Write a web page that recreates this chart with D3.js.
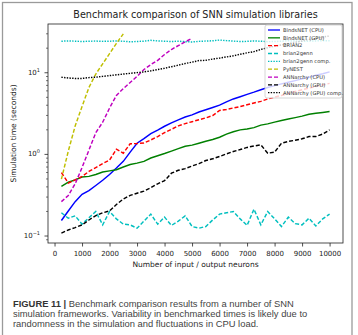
<!DOCTYPE html>
<html>
<head>
<meta charset="utf-8">
<script src="https://cdn.jsdelivr.net/npm/d3@7"></script>
<style>
    body { margin: 0; background: #fff; }
    text { font-family: "DejaVu Sans", sans-serif; }
</style>
</head>
<body>
<svg id="chart" width="358" height="335"></svg>
<script>
'use strict';

// neuron counts (x)
const neurons = [250, 500, 750, 1000, 1250, 1500, 1750, 2000, 2250, 2500,
    2750, 3000, 3250, 3500, 3750, 4000, 4250, 4500, 4750, 5000,
    5250, 5500, 5750, 6000, 6250, 6500, 6750, 7000, 7250, 7500,
    7750, 8000, 8250, 8500, 8750, 9000, 9250, 9500, 9750, 10000];

// simulation times (seconds)
const bindsnetCpu = [0.153, 0.20, 0.26, 0.32, 0.355, 0.41, 0.475, 0.56, 0.67, 0.81,
    1.05, 1.35, 1.54, 1.77, 1.95, 2.18, 2.4, 2.61, 2.83, 3.0,
    3.26, 3.47, 3.7, 3.95, 4.34, 4.71, 5.02, 5.36, 5.7, 6.1,
    6.5, 6.85, 7.2, 7.55, 7.9, 8.3, 8.7, 9.2, 9.6, 10.1];
const bindsnetGpu = [0.40, 0.45, 0.48, 0.52, 0.53, 0.56, 0.60, 0.62, 0.64, 0.69,
    0.74, 0.77, 0.81, 0.89, 0.95, 1.01, 1.08, 1.16, 1.24, 1.28,
    1.35, 1.43, 1.5, 1.6, 1.75, 1.87, 1.97, 2.02, 2.1, 2.25,
    2.33, 2.45, 2.56, 2.67, 2.78, 2.9, 3.06, 3.15, 3.22, 3.3];
const brian2 = [0.59, 0.44, 0.48, 0.53, 0.61, 0.68, 0.76, 0.84, 1.14, 1.02,
    1.33, 1.34, 1.36, 1.48, 1.63, 1.82, 2.0, 2.2, 2.35, 2.48,
    2.62, 2.76, 2.95, 3.4, 3.5, 3.65, 3.8, 4.0, 4.2, 4.4,
    4.7, 4.95, 5.2, 5.5, 5.8, 6.1, 6.4, 6.7, 7.0, 7.3];
const brian2genn = [0.19, 0.163, 0.174, 0.138, 0.165, 0.197, 0.135, 0.197, 0.16, 0.138,
    0.135, 0.123, 0.15, 0.183, 0.138, 0.168, 0.133, 0.15, 0.174, 0.129,
    0.123, 0.129, 0.155, 0.183, 0.19, 0.197, 0.16, 0.133, 0.21, 0.135,
    0.197, 0.16, 0.129, 0.168, 0.14, 0.135, 0.163, 0.131, 0.16, 0.183];
const brian2gennComp = [24.0, 24.2, 24.0, 23.8, 24.0, 24.1, 23.9, 24.0, 24.2, 24.0,
    23.6, 23.8, 24.0, 24.6, 24.2, 24.0, 23.8, 24.0, 23.7, 23.5,
    23.9, 24.1, 24.3, 24.8, 24.4, 24.1, 23.8, 23.9, 24.2, 24.0,
    23.7, 23.8, 24.0, 24.3, 24.1, 23.9, 24.0, 24.2, 24.4, 24.3];
const pynest = [0.49, 1.08, 2.2, 3.8, 6.5, 9.5, 12.7, 16.9, 22.6, 29.5];
const annarchyCpu = [0.26, 0.31, 0.43, 0.68, 1.11, 1.82, 2.44, 3.64, 5.2, 6.3,
    7.5, 8.9, 10.8, 12.4, 14.0, 16.5, 19.0, 21.2, 23.6, 26.0];
const annarchyGpu = [0.107, 0.117, 0.125, 0.135, 0.155, 0.175, 0.19, 0.2, 0.24, 0.28,
    0.31, 0.33, 0.35, 0.385, 0.43, 0.47, 0.58, 0.63, 0.66, 0.71,
    0.76, 0.83, 0.87, 0.93, 1.0, 1.07, 1.13, 1.2, 1.25, 1.29,
    1.02, 1.05, 1.35, 1.42, 1.47, 1.53, 1.63, 1.63, 1.75, 1.97];
const annarchyGpuComp = [8.7, 8.5, 8.4, 8.4, 8.6, 8.7, 8.9, 9.1, 9.3, 9.5,
    9.7, 9.9, 10.1, 10.4, 10.8, 11.2, 11.7, 12.2, 12.8, 13.3,
    13.9, 14.0, 14.5, 14.9, 15.4, 15.9, 16.6, 17.3, 17.9, 19.0,
    20.0, 20.8, 21.6, 22.4, 23.3, 24.2, 25.1, 26.0, 27.0, 27.8];

const xTicks = [0, 1000, 2000, 3000, 4000, 5000, 6000, 7000, 8000, 9000, 10000];
const yMajor = [0.1, 1, 10];
const yMajorExp = ['\u22121', '0', '1'];
const yMinor = [0.09, 0.2, 0.3, 0.4, 0.5, 0.6, 0.7, 0.8, 0.9, 2, 3, 4, 5, 6, 7, 8, 9, 20, 30];

const series = [
    {name: 'BindsNET (CPU)', values: bindsnetCpu, color: '#0000ff', dash: null},
    {name: 'BindsNET (GPU)', values: bindsnetGpu, color: '#008000', dash: null},
    {name: 'BRIAN2', values: brian2, color: '#ff0000', dash: '4,2'},
    {name: 'brian2genn', values: brian2genn, color: '#00bfbf', dash: '4,2'},
    {name: 'brian2genn comp.', values: brian2gennComp, color: '#00bfbf', dash: '1.4,1.3'},
    {name: 'PyNEST', values: pynest, color: '#bfbf00', dash: '4,2'},
    {name: 'ANNarchy (CPU)', values: annarchyCpu, color: '#bf00bf', dash: '4,2'},
    {name: 'ANNarchy (GPU)', values: annarchyGpu, color: '#000000', dash: '4,2'},
    {name: 'ANNarchy (GPU) comp.', values: annarchyGpuComp, color: '#000000', dash: '1.4,1.3'}
];

let svg = d3.select('#chart');

// outer frame of the figure
svg.append('rect')
    .attr('x', 2.5).attr('y', 2.5)
    .attr('width', 349.5).attr('height', 345)
    .attr('fill', 'none')
    .attr('stroke', '#9a9a9a')
    .attr('stroke-width', 1.3);

// plot area
let plot = {left: 48, right: 343, top: 24, bottom: 243};

// set the ranges
let x = d3.scaleLinear().domain([-237.5, 10487.5]).range([plot.left, plot.right]);
let y = d3.scaleLog().domain([0.081, 39]).range([plot.bottom, plot.top]);

svg.append('clipPath').attr('id', 'clip')
    .append('rect')
    .attr('x', plot.left).attr('y', plot.top)
    .attr('width', plot.right - plot.left).attr('height', plot.bottom - plot.top);

// title
svg.append('text')
    .attr('x', (plot.left + plot.right) / 2)
    .attr('y', 18)
    .attr('text-anchor', 'middle')
    .style('font-size', '9.6px')
    .attr('fill', '#222')
    .text('Benchmark comparison of SNN simulation libraries');

// lines
let lines = svg.append('g').attr('clip-path', 'url(#clip)');
let line = d3.line()
    .x((d, i) => x(neurons[i]))
    .y(d => y(d));

for (let s of series) {
    lines.append('path')
        .datum(s.values)
        .attr('fill', 'none')
        .attr('stroke', s.color)
        .attr('stroke-width', 1.45)
        .attr('stroke-dasharray', s.dash)
        .attr('d', line);
}

// X axis
let xAxis = svg.append('g')
    .attr('transform', 'translate(0,' + plot.bottom + ')')
    .call(d3.axisBottom(x).tickValues(xTicks).tickFormat(d3.format('d'))
        .tickSize(3.5).tickPadding(4.5).tickSizeOuter(0));
xAxis.select('.domain').remove();
xAxis.selectAll('text').style('font-size', '7px').attr('fill', '#222');
xAxis.selectAll('line').attr('stroke', '#222').attr('stroke-width', 0.8);

// Y axis, major ticks
let yAxis = svg.append('g')
    .attr('transform', 'translate(' + plot.left + ',0)')
    .call(d3.axisLeft(y).tickValues(yMajor).tickFormat('').tickSize(3.5).tickSizeOuter(0));
yAxis.select('.domain').remove();
yAxis.selectAll('line').attr('stroke', '#222').attr('stroke-width', 0.8);

// Y axis, minor ticks
let yMinorAxis = svg.append('g')
    .attr('transform', 'translate(' + plot.left + ',0)')
    .call(d3.axisLeft(y).tickValues(yMinor).tickFormat('').tickSize(2).tickSizeOuter(0));
yMinorAxis.select('.domain').remove();
yMinorAxis.selectAll('line').attr('stroke', '#222').attr('stroke-width', 0.6);

// 10^n labels
yMajor.forEach((v, i) => {
    let t = svg.append('text')
        .attr('x', plot.left - 8)
        .attr('y', y(v) + 2.6)
        .attr('text-anchor', 'end')
        .style('font-size', '7px')
        .attr('fill', '#222');
    t.append('tspan').text('10');
    t.append('tspan').attr('dy', -3).style('font-size', '5px').text(yMajorExp[i]);
});

// axes box
svg.append('rect')
    .attr('x', plot.left).attr('y', plot.top)
    .attr('width', plot.right - plot.left).attr('height', plot.bottom - plot.top)
    .attr('fill', 'none')
    .attr('stroke', '#222')
    .attr('stroke-width', 0.8);

// axis labels
svg.append('text')
    .attr('x', (plot.left + plot.right) / 2)
    .attr('y', 267)
    .attr('text-anchor', 'middle')
    .style('font-size', '7.5px')
    .attr('fill', '#222')
    .text('Number of input / output neurons');

svg.append('text')
    .attr('transform', 'translate(16,' + (plot.top + plot.bottom) / 2 + ') rotate(-90)')
    .attr('text-anchor', 'middle')
    .style('font-size', '7.5px')
    .attr('fill', '#222')
    .text('Simulation time (seconds)');

// legend
let legend = svg.append('g');
legend.append('rect')
    .attr('x', 265).attr('y', 25)
    .attr('width', 77).attr('height', 73)
    .attr('rx', 2)
    .attr('fill', '#fff').attr('fill-opacity', 0.8)
    .attr('stroke', '#ccc').attr('stroke-width', 0.8);

series.forEach((s, i) => {
    let ly = 30 + i * 7.84;
    legend.append('line')
        .attr('x1', 268).attr('x2', 280)
        .attr('y1', ly).attr('y2', ly)
        .attr('stroke', s.color)
        .attr('stroke-width', 1.3)
        .attr('stroke-dasharray', s.dash);
    legend.append('text')
        .attr('x', 283).attr('y', ly + 1.8)
        .style('font-size', '5.2px')
        .attr('fill', '#333')
        .text(s.name);
});

// caption
let caption = [
    ['FIGURE 11 |', ' Benchmark comparison results from a number of SNN'],
    ['', 'simulation frameworks. Variability in benchmarked times is likely due to'],
    ['', 'randomness in the simulation and fluctuations in CPU load.']
];
caption.forEach((c, i) => {
    let t = svg.append('text')
        .attr('x', 13)
        .attr('y', 307 + i * 10)
        .style('font-family', '"Liberation Sans", Arial, sans-serif')
        .style('font-size', '9.4px')
        .attr('fill', '#444');
    if (c[0]) t.append('tspan').style('font-weight', 'bold').attr('fill', '#333').text(c[0]);
    t.append('tspan').text(c[1]);
});
</script>
</body>
</html>
